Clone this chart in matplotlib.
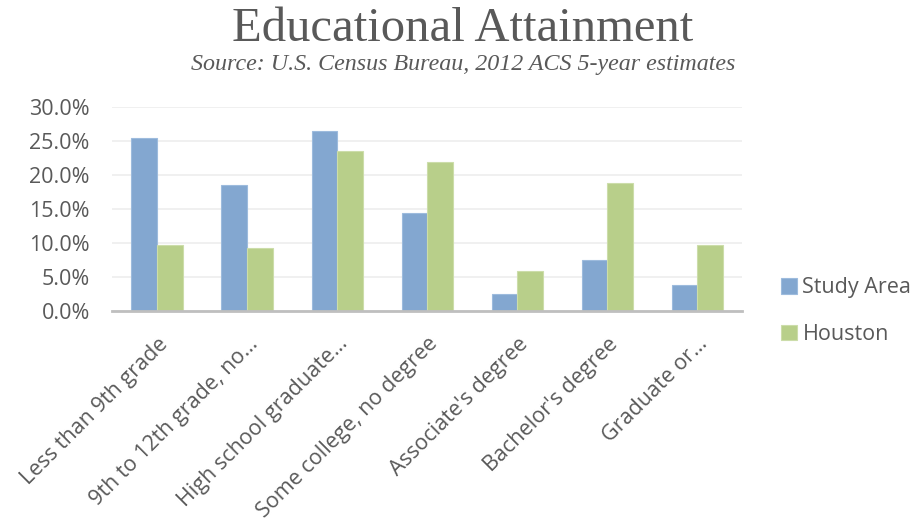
import numpy as np
import matplotlib.pyplot as plt
from matplotlib.ticker import PercentFormatter, MultipleLocator

categories = ["Less than 9th grade", "9th to 12th grade, no…", "High school graduate…",
              "Some college, no degree", "Associate's degree", "Bachelor's degree",
              "Graduate or…"]
study_area = [25.5, 18.6, 26.5, 14.4, 2.6, 7.6, 3.9]
houston = [9.8, 9.3, 23.6, 21.9, 5.9, 18.9, 9.8]

BLUE = "#83A7D0"
GREEN = "#B8CF8A"
TEXT = "#595959"

plt.rcParams['font.family'] = ['Open Sans', 'DejaVu Sans']

fig = plt.figure(figsize=(9.11, 5.23), dpi=100)
ax = fig.add_axes([0.123, 0.405, 0.692, 0.39])

x = np.arange(len(categories))
w = 0.285
ax.bar(x - w / 2, study_area, w, color=BLUE, edgecolor="#9DBBDD", linewidth=0.8, label="Study Area", zorder=3)
ax.bar(x + w / 2, houston, w, color=GREEN, edgecolor="#CCDDAA", linewidth=0.8, label="Houston", zorder=3)

ax.set_xlim(-0.5, len(categories) - 0.5)
ax.set_ylim(0, 30)
ax.yaxis.set_major_locator(MultipleLocator(5))
ax.yaxis.set_major_formatter(PercentFormatter(decimals=1))
ax.grid(axis="y", color="#EEEEEE", linewidth=1.2, zorder=0)
for s in ["top", "right", "left"]:
    ax.spines[s].set_visible(False)
ax.spines["bottom"].set_color("#BFBFBF")
ax.spines["bottom"].set_linewidth(2)
ax.spines["bottom"].set_zorder(4)
ax.tick_params(axis="both", length=0, colors=TEXT, labelsize=15.5)
ax.tick_params(axis="y", pad=16)
ax.tick_params(axis="x", pad=16)
ax.set_xticks(x)
ax.set_xticklabels(categories, rotation=45, ha="right", rotation_mode="anchor")

fig.text(0.508, 0.945, "Educational Attainment", ha="center", va="center",
         fontsize=35, color=TEXT, family=["Liberation Serif", "DejaVu Serif"])
fig.text(0.508, 0.877, "Source: U.S. Census Bureau, 2012 ACS 5-year estimates", ha="center",
         va="center", fontsize=17.3, color=TEXT, style="italic",
         family=["Liberation Serif", "DejaVu Serif"])

fig.legend(loc="center left", bbox_to_anchor=(0.836, 0.405), frameon=False,
           fontsize=15.5, labelcolor=TEXT, handlelength=0.75, handleheight=0.75,
           handletextpad=0.25, labelspacing=1.2)

fig.savefig("out.png", dpi=100)
